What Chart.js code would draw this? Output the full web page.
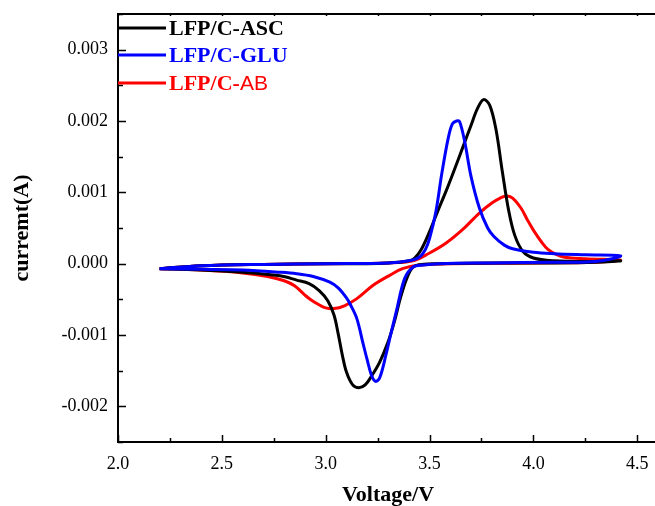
<!DOCTYPE html>
<html>
<head>
<meta charset="utf-8">
<script src="https://cdn.jsdelivr.net/npm/chart.js@4"></script>
<style>
  html, body { margin: 0; padding: 0; background: #fff; overflow: hidden; }
  #wrap { width: 655px; height: 506px; overflow: hidden; }
</style>
</head>
<body>
<div id="wrap"><canvas id="cv" width="665" height="506" style="width:665px;height:506px"></canvas></div>
<script>
// current values are in mA (shown on the axis in A)
const ascV = [2.20, 2.40, 2.70, 3.00, 3.20, 3.30, 3.38, 3.42, 3.46, 3.50, 3.54, 3.58, 3.62, 3.66, 3.70, 3.73, 3.76, 3.79, 3.82, 3.85, 3.88, 3.91, 3.95, 4.00, 4.10, 4.25, 4.42,
  4.30, 4.10, 3.80, 3.55, 3.46, 3.42, 3.39, 3.36, 3.33, 3.30, 3.26, 3.22, 3.19, 3.16, 3.13, 3.10, 3.08, 3.06, 3.04, 3.01, 2.97, 2.92, 2.86, 2.78, 2.60, 2.40, 2.20];
const ascI = [-0.07, -0.03, -0.01, 0.00, 0.00, 0.01, 0.03, 0.06, 0.20, 0.45, 0.74, 1.02, 1.32, 1.63, 1.94, 2.17, 2.30, 2.22, 1.88, 1.30, 0.76, 0.40, 0.17, 0.08, 0.04, 0.03, 0.04,
  0.02, 0.01, 0.01, 0.00, -0.01, -0.05, -0.21, -0.48, -0.82, -1.10, -1.38, -1.58, -1.70, -1.74, -1.70, -1.52, -1.28, -0.98, -0.72, -0.52, -0.38, -0.28, -0.23, -0.17, -0.12, -0.09, -0.07];

const gluV = [2.20, 2.40, 2.70, 3.00, 3.30, 3.40, 3.45, 3.48, 3.50, 3.53, 3.56, 3.59, 3.61, 3.63, 3.645, 3.67, 3.70, 3.74, 3.78, 3.81, 3.86, 3.90, 4.00, 4.10, 4.25, 4.42,
  4.30, 4.10, 3.80, 3.55, 3.47, 3.42, 3.38, 3.34, 3.31, 3.29, 3.26, 3.24, 3.22, 3.20, 3.18, 3.15, 3.12, 3.10, 3.06, 3.02, 2.94, 2.86, 2.78, 2.60, 2.40, 2.20];
const gluI = [-0.07, -0.03, -0.01, 0.00, 0.01, 0.04, 0.09, 0.20, 0.35, 0.72, 1.28, 1.76, 1.96, 2.00, 1.99, 1.70, 1.22, 0.78, 0.50, 0.38, 0.26, 0.21, 0.16, 0.14, 0.125, 0.11,
  0.03, 0.02, 0.01, 0.00, -0.02, -0.05, -0.21, -0.67, -1.03, -1.28, -1.60, -1.65, -1.56, -1.35, -1.12, -0.77, -0.58, -0.48, -0.34, -0.26, -0.18, -0.14, -0.12, -0.09, -0.08, -0.07];

const abV = [2.20, 2.40, 2.70, 3.00, 3.30, 3.42, 3.50, 3.58, 3.66, 3.74, 3.80, 3.84, 3.87, 3.90, 3.94, 3.97, 4.00, 4.04, 4.07, 4.11, 4.15, 4.25, 4.42,
  4.30, 4.00, 3.60, 3.45, 3.37, 3.31, 3.23, 3.15, 3.09, 3.04, 3.00, 2.97, 2.93, 2.90, 2.85, 2.80, 2.72, 2.60, 2.40, 2.20];
const abI = [-0.07, -0.03, -0.01, 0.00, 0.01, 0.04, 0.15, 0.29, 0.48, 0.71, 0.85, 0.92, 0.95, 0.92, 0.78, 0.62, 0.47, 0.30, 0.20, 0.13, 0.09, 0.07, 0.05,
  0.02, 0.01, 0.00, -0.02, -0.07, -0.16, -0.30, -0.49, -0.59, -0.63, -0.62, -0.58, -0.51, -0.44, -0.31, -0.24, -0.18, -0.13, -0.09, -0.07];

const xTicks = [2.0, 2.5, 3.0, 3.5, 4.0, 4.5];
const yTicks = [-0.002, -0.001, 0.000, 0.001, 0.002, 0.003];

const seriesNames = ['LFP/C-ASC', 'LFP/C-GLU', 'LFP/C-AB'];
const seriesColors = ['#000000', '#0000ff', '#ff0000'];

function pts(v, i) {
  return v.map((x, k) => ({ x: x, y: i[k] / 1000 }));
}

const serif = '"Liberation Serif", "Times New Roman", serif';

// inward ticks, top frame line and the legend
const framePlugin = {
  id: 'frame',
  afterDraw(chart) {
    const ctx = chart.ctx;
    const xs = chart.scales.x, ys = chart.scales.y;
    const a = chart.chartArea;
    ctx.save();
    ctx.strokeStyle = '#000';
    ctx.lineWidth = 2;
    ctx.beginPath();
    ctx.moveTo(a.left - 1, a.top);
    ctx.lineTo(a.right + 5, a.top);
    ctx.stroke();

    ctx.lineWidth = 1.5;
    ctx.beginPath();
    xTicks.forEach((t, k) => {
      const px = Math.round(xs.getPixelForValue(t)) + 0.5;
      ctx.moveTo(px, a.bottom); ctx.lineTo(px, a.bottom - 7);
      ctx.moveTo(px, a.top); ctx.lineTo(px, a.top + 2);
      if (k < xTicks.length - 1) {
        const pm = Math.round(xs.getPixelForValue((t + xTicks[k + 1]) / 2)) + 0.5;
        ctx.moveTo(pm, a.bottom); ctx.lineTo(pm, a.bottom - 4);
        ctx.moveTo(pm, a.top); ctx.lineTo(pm, a.top + 2);
      }
    });
    yTicks.forEach((t, k) => {
      const py = Math.round(ys.getPixelForValue(t)) + 0.5;
      ctx.moveTo(a.left, py); ctx.lineTo(a.left + 8, py);
      const pm = Math.round(ys.getPixelForValue(t - 0.0005)) + 0.5;
      ctx.moveTo(a.left, pm); ctx.lineTo(a.left + 5, pm);
      if (k === yTicks.length - 1) {
        const pt = Math.round(ys.getPixelForValue(t + 0.0005)) + 0.5;
        ctx.moveTo(a.left, pt); ctx.lineTo(a.left + 5, pt);
      }
    });
    ctx.stroke();

    // legend
    const rows = [28, 55, 83];
    ctx.textBaseline = 'middle';
    seriesNames.forEach((name, k) => {
      const y = rows[k];
      ctx.strokeStyle = seriesColors[k];
      ctx.lineWidth = 3;
      ctx.beginPath();
      ctx.moveTo(a.left, y); ctx.lineTo(a.left + 48, y);
      ctx.stroke();
      ctx.fillStyle = seriesColors[k];
      if (k === 2) {
        ctx.font = 'bold 22px ' + serif;
        const head = 'LFP/C-';
        ctx.fillText(head, a.left + 51, y + 1);
        const w = ctx.measureText(head).width;
        ctx.font = '21px "Liberation Sans", Arial, sans-serif';
        ctx.fillText('AB', a.left + 51 + w, y + 1);
      } else {
        ctx.font = 'bold 22px ' + serif;
        ctx.fillText(name, a.left + 51, y + 1);
      }
    });
    ctx.restore();
  }
};

function noPad(s) {
  s.paddingTop = 0; s.paddingBottom = 0; s.paddingLeft = 0; s.paddingRight = 0;
}

new Chart(document.getElementById('cv'), {
  type: 'scatter',
  data: {
    datasets: [
      { label: seriesNames[1], data: pts(gluV, gluI), borderColor: seriesColors[1], order: 1 },
      { label: seriesNames[0], data: pts(ascV, ascI), borderColor: seriesColors[0], order: 2 },
      { label: seriesNames[2], data: pts(abV, abI), borderColor: seriesColors[2], order: 3 }
    ].map(d => Object.assign(d, { showLine: true, borderWidth: 3, pointRadius: 0, tension: 0.35, fill: false }))
  },
  options: {
    responsive: false,
    animation: false,
    layout: { padding: { top: 14, right: 7, left: 0, bottom: 0 } },
    plugins: { legend: { display: false }, tooltip: { enabled: false } },
    scales: {
      x: {
        type: 'linear',
        min: 2.0,
        max: 4.6,
        afterFit(s) { s.height = 64; noPad(s); },
        afterBuildTicks(s) { s.ticks = xTicks.map(v => ({ value: v })); },
        grid: { display: false, drawTicks: false },
        border: { display: true, color: '#000', width: 2 },
        ticks: {
          color: '#000',
          padding: 11,
          font: { family: serif, size: 18 },
          maxRotation: 0,
          callback: v => v.toFixed(1)
        },
        title: {
          display: true,
          text: 'Voltage/V',
          color: '#000',
          font: { family: serif, size: 22, weight: 'bold', lineHeight: 1 },
          padding: { top: 0, bottom: 0 }
        }
      },
      y: {
        type: 'linear',
        min: -0.0025,
        max: 0.0035,
        afterFit(s) { s.width = 118; noPad(s); },
        afterBuildTicks(s) { s.ticks = yTicks.map(v => ({ value: v })); },
        grid: { display: false, drawTicks: false },
        border: { display: true, color: '#000', width: 2 },
        ticks: {
          color: '#000',
          padding: 10,
          font: { family: serif, size: 18 },
          callback: v => v.toFixed(3)
        },
        title: {
          display: true,
          text: 'curremt(A)',
          color: '#000',
          font: { family: serif, size: 22, weight: 'bold' },
          padding: { top: 9, bottom: 0 }
        }
      }
    }
  },
  plugins: [framePlugin]
});
</script>
</body>
</html>
